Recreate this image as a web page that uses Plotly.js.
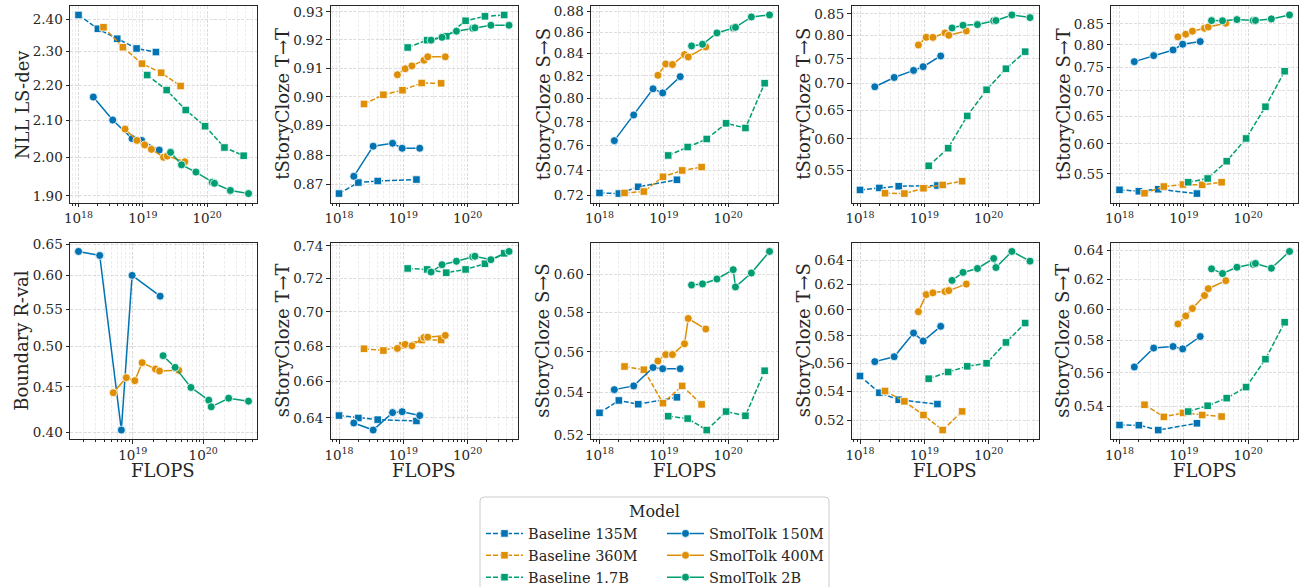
<!DOCTYPE html>
<html><head><meta charset="utf-8">
<script src="https://cdn.plot.ly/plotly-3.0.1.min.js"></script>
<style>body{margin:0;padding:0;background:#fff}#chart{width:1302px;height:587px}</style>
</head><body><div id="chart"></div>
<script>
// ---- FLOPS (x) per model ----
const xBaseline135M = [1.0e18, 2.0e18, 4.0e18, 8.0e18, 1.6e19];
const xBaseline360M = [2.45e18, 4.9e18, 9.7e18, 1.93e19, 3.87e19];
const xBaseline17B  = [1.17e19, 2.35e19, 4.65e19, 9.3e19, 1.86e20, 3.7e20];
const xSmol150M     = [1.7e18, 3.4e18, 6.8e18, 9.6e18, 1.8e19];
const xSmol400M     = [5.3e18, 8.1e18, 1.07e19, 1.36e19, 2.1e19, 2.4e19, 4.5e19];
const xSmol2B       = [2.7e19, 4.0e19, 6.7e19, 1.2e20, 1.3e20, 2.3e20, 4.4e20];
const xSmol150MBoundary = [1.7e18, 3.4e18, 6.9e18, 9.8e18, 2.45e19];

// ---- NLL LS-dev ----
const nll_b135 = [2.415, 2.371, 2.340, 2.310, 2.299];
const nll_b360 = [2.376, 2.314, 2.264, 2.237, 2.198];
const nll_b17  = [2.230, 2.186, 2.129, 2.084, 2.026, 2.004];
const nll_s150 = [2.166, 2.101, 2.050, 2.045, 2.019];
const nll_s400 = [2.076, 2.045, 2.033, 2.021, 2.000, 2.003, 1.988];
const nll_s2b  = [2.013, 1.980, 1.961, 1.935, 1.932, 1.914, 1.906];
// ---- tStoryCloze T->T ----
const tTT_b135 = [0.8670, 0.8707, 0.8712, null, 0.8717];
const tTT_b360 = [0.8975, 0.9007, 0.9023, 0.9048, 0.9047];
const tTT_b17  = [0.9173, 0.9199, 0.9213, 0.9268, 0.9284, 0.9289];
const tTT_s150 = [0.8728, 0.8830, 0.8840, 0.8823, 0.8823];
const tTT_s400 = [null, 0.9077, 0.9098, 0.9108, 0.9128, 0.9140, 0.9140];
const tTT_s2b  = [0.9199, 0.9209, 0.9231, 0.9241, 0.9243, 0.9252, 0.9252];
// ---- tStoryCloze S->S ----
const tSS_b135 = [0.7218, 0.7213, 0.7266, null, 0.7322];
const tSS_b360 = [0.7218, 0.7229, 0.7346, 0.7397, 0.7424];
const tSS_b17  = [0.7519, 0.7588, 0.7655, 0.7787, 0.7747, 0.8135];
const tSS_s150 = [0.7641, 0.7858, 0.8085, 0.8049, 0.8193];
const tSS_s400 = [null, 0.8205, 0.8307, 0.8302, 0.8392, 0.8371, 0.8463];
const tSS_s2b  = [0.8472, 0.8487, 0.8593, 0.8640, 0.8645, 0.8744, 0.8763];
// ---- tStoryCloze T->S ----
const tTS_b135 = [0.5206, 0.5235, 0.5260, null, 0.5270];
const tTS_b360 = [0.5158, 0.5153, 0.5230, 0.5279, 0.5334];
const tTS_b17  = [0.5567, 0.5848, 0.6398, 0.6881, 0.7297, 0.7652];
const tTS_s150 = [0.6939, 0.7121, 0.7263, 0.7338, 0.7561];
const tTS_s400 = [null, 0.7796, 0.7965, 0.7963, 0.8062, 0.8010, 0.8107];
const tTS_s2b  = [0.8175, 0.8236, 0.8252, 0.8340, 0.8346, 0.8477, 0.8414];
// ---- tStoryCloze S->T ----
const tST_b135 = [0.5250, 0.5229, 0.5260, null, 0.5194];
const tST_b360 = [0.5199, 0.5301, 0.5332, 0.5327, 0.5368];
const tST_b17  = [0.5368, 0.5426, 0.5706, 0.6095, 0.6683, 0.7409];
const tST_s150 = [0.7618, 0.7752, 0.7881, 0.8013, 0.8075];
const tST_s400 = [null, 0.8185, 0.8249, 0.8322, 0.8393, 0.8425, 0.8515];
const tST_s2b  = [0.8582, 0.8578, 0.8607, 0.8582, 0.8585, 0.8624, 0.8724];
// ---- Boundary R-val ----
const bnd_s150 = [0.6383, 0.6317, 0.4025, 0.6000, 0.5687];
const bnd_s400 = [0.4432, 0.4608, 0.4572, 0.4790, 0.4712, 0.4688, 0.4696];
const bnd_s2b  = [0.4877, 0.4732, 0.4493, 0.4348, 0.4274, 0.4370, 0.4337];
// ---- sStoryCloze T->T ----
const sTT_b135 = [0.6413, 0.6400, 0.6391, null, 0.6384];
const sTT_b360 = [0.6785, 0.6775, 0.6805, 0.6835, 0.6835];
const sTT_b17  = [0.7261, 0.7255, 0.7235, 0.7255, 0.7290, 0.7354];
const sTT_s150 = [0.6373, 0.6335, 0.6429, 0.6434, 0.6413];
const sTT_s400 = [null, 0.6787, 0.6810, 0.6802, 0.6850, 0.6852, 0.6862];
const sTT_s2b  = [0.7239, 0.7284, 0.7305, 0.7333, 0.7336, 0.7315, 0.7366];
// ---- sStoryCloze S->S ----
const sSS_b135 = [0.5303, 0.5362, 0.5344, null, 0.5377];
const sSS_b360 = [0.5527, 0.5511, 0.5349, 0.5432, 0.5343];
const sSS_b17  = [0.5287, 0.5276, 0.5222, 0.5309, 0.5289, 0.5506];
const sSS_s150 = [0.5414, 0.5432, 0.5522, 0.5516, 0.5516];
const sSS_s400 = [null, 0.5554, 0.5586, 0.5586, 0.5640, 0.5769, 0.5715];
const sSS_s2b  = [0.5944, 0.5950, 0.5976, 0.6026, 0.5934, 0.6008, 0.6125];
// ---- sStoryCloze T->S ----
const sTS_b135 = [0.5506, 0.5388, 0.5339, null, 0.5309];
const sTS_b360 = [0.5400, 0.5328, 0.5234, 0.5133, 0.5259];
const sTS_b17  = [0.5487, 0.5535, 0.5576, 0.5598, 0.5752, 0.5898];
const sTS_s150 = [0.5610, 0.5646, 0.5822, 0.5762, 0.5873];
const sTS_s400 = [null, 0.5986, 0.6120, 0.6134, 0.6145, 0.6152, 0.6204];
const sTS_s2b  = [0.6234, 0.6299, 0.6331, 0.6414, 0.6339, 0.6473, 0.6392];
// ---- sStoryCloze S->T ----
const sST_b135 = [0.5291, 0.5290, 0.5262, null, 0.5301];
const sST_b360 = [0.5409, 0.5338, 0.5361, 0.5349, 0.5340];
const sST_b17  = [0.5369, 0.5403, 0.5448, 0.5514, 0.5684, 0.5917];
const sST_s150 = [0.5636, 0.5753, 0.5763, 0.5748, 0.5826];
const sST_s400 = [null, 0.5906, 0.5958, 0.6006, 0.6092, 0.6137, 0.6191];
const sST_s2b  = [0.6271, 0.6239, 0.6282, 0.6302, 0.6308, 0.6275, 0.6391];

// ---- tick values ----
const ticksNll = [1.90, 2.00, 2.10, 2.20, 2.30, 2.40];
const ticksTTT = [0.87, 0.88, 0.89, 0.90, 0.91, 0.92, 0.93];
const ticksTSS = [0.72, 0.74, 0.76, 0.78, 0.80, 0.82, 0.84, 0.86, 0.88];
const ticksTTS = [0.55, 0.60, 0.65, 0.70, 0.75, 0.80, 0.85];
const ticksTST = [0.55, 0.60, 0.65, 0.70, 0.75, 0.80, 0.85];
const ticksBnd = [0.40, 0.45, 0.50, 0.55, 0.60, 0.65];
const ticksSTT = [0.64, 0.66, 0.68, 0.70, 0.72, 0.74];
const ticksSSS = [0.52, 0.54, 0.56, 0.58, 0.60];
const ticksSTS = [0.52, 0.54, 0.56, 0.58, 0.60, 0.62, 0.64];
const ticksSST = [0.54, 0.56, 0.58, 0.60, 0.62, 0.64];
const xTickVals = [1e18, 1e19, 1e20];
const xTickText = ['10<sup>18</sup>', '10<sup>19</sup>', '10<sup>20</sup>'];

const BLUE = '#0173b2', ORANGE = '#de8f05', GREEN = '#029e73';
const FONT = 'DejaVu Serif, serif';

const series = [
  {name: 'Baseline 135M', color: BLUE,   base: true,  x: xBaseline135M},
  {name: 'Baseline 360M', color: ORANGE, base: true,  x: xBaseline360M},
  {name: 'Baseline 1.7B', color: GREEN,  base: true,  x: xBaseline17B},
  {name: 'SmolTolk 150M', color: BLUE,   base: false, x: xSmol150M},
  {name: 'SmolTolk 400M', color: ORANGE, base: false, x: xSmol400M},
  {name: 'SmolTolk 2B',   color: GREEN,  base: false, x: xSmol2B}
];

const panels = [
  {title: 'NLL LS-dev',       ticks: ticksNll, ys: [nll_b135, nll_b360, nll_b17, nll_s150, nll_s400, nll_s2b]},
  {title: 'tStoryCloze T→T',  ticks: ticksTTT, ys: [tTT_b135, tTT_b360, tTT_b17, tTT_s150, tTT_s400, tTT_s2b]},
  {title: 'tStoryCloze S→S',  ticks: ticksTSS, ys: [tSS_b135, tSS_b360, tSS_b17, tSS_s150, tSS_s400, tSS_s2b]},
  {title: 'tStoryCloze T→S',  ticks: ticksTTS, ys: [tTS_b135, tTS_b360, tTS_b17, tTS_s150, tTS_s400, tTS_s2b]},
  {title: 'tStoryCloze S→T',  ticks: ticksTST, ys: [tST_b135, tST_b360, tST_b17, tST_s150, tST_s400, tST_s2b]},
  {title: 'Boundary R-val',   ticks: ticksBnd, ys: [null, null, null, bnd_s150, bnd_s400, bnd_s2b], xOverride: {3: xSmol150MBoundary}},
  {title: 'sStoryCloze T→T',  ticks: ticksSTT, ys: [sTT_b135, sTT_b360, sTT_b17, sTT_s150, sTT_s400, sTT_s2b]},
  {title: 'sStoryCloze S→S',  ticks: ticksSSS, ys: [sSS_b135, sSS_b360, sSS_b17, sSS_s150, sSS_s400, sSS_s2b]},
  {title: 'sStoryCloze T→S',  ticks: ticksSTS, ys: [sTS_b135, sTS_b360, sTS_b17, sTS_s150, sTS_s400, sTS_s2b]},
  {title: 'sStoryCloze S→T',  ticks: ticksSST, ys: [sST_b135, sST_b360, sST_b17, sST_s150, sST_s400, sST_s2b]}
];

const FW = 1302, FH = 587;
const colLeft = [70, 330.5, 591, 851.5, 1111];
const rowTop = [6, 242.5];
const PW = 187, PH = 196.5;

function padLog(vals) {
  const l = vals.map(v => Math.log10(v));
  const lo = Math.min(...l), hi = Math.max(...l);
  const p = (hi - lo) * 0.05;
  return [lo - p, hi + p];
}

const legendFont = {family: FONT, size: 14.5, color: '#262626'};
const titleFont = {family: FONT, size: 18, color: '#262626'};
const traces = [];
const layout = {
  width: FW, height: FH,
  margin: {l: 0, r: 0, t: 0, b: 0, autoexpand: false},
  paper_bgcolor: '#fff', plot_bgcolor: '#fff',
  font: {family: FONT, color: '#262626'},
  showlegend: true,
  legend: {x: 481 / FW, y: 1 - 517.5 / FH, xanchor: 'left', yanchor: 'top',
           bgcolor: 'rgba(0,0,0,0)', borderwidth: 0, tracegroupgap: 0, itemwidth: 37, font: legendFont},
  legend2: {x: 662 / FW, y: 1 - 517.5 / FH, xanchor: 'left', yanchor: 'top',
           bgcolor: 'rgba(0,0,0,0)', borderwidth: 0, tracegroupgap: 0, itemwidth: 37, font: legendFont},
  annotations: [{text: 'Model', xref: 'paper', yref: 'paper', x: 655 / FW, y: 1 - 511 / FH,
                 xanchor: 'center', yanchor: 'middle', showarrow: false,
                 font: {family: FONT, size: 16, color: '#262626'}}],
  shapes: []
};

// legend frame (rounded rect)
(function () {
  const x0 = 480 / FW, x1 = 829 / FW, y0 = 1 - 497 / FH, y1 = 1 - 600 / FH;
  const rx = 4 / FW, ry = 4 / FH;
  const path = `M ${x0 + rx},${y0} L ${x1 - rx},${y0} Q ${x1},${y0} ${x1},${y0 - ry} L ${x1},${y1} L ${x0},${y1} L ${x0},${y0 - ry} Q ${x0},${y0} ${x0 + rx},${y0} Z`;
  layout.shapes.push({type: 'path', xref: 'paper', yref: 'paper', path: path,
                      line: {color: '#cccccc', width: 1}, fillcolor: 'rgba(255,255,255,0.8)', layer: 'below'});
})();

const shown = {};
panels.forEach((p, i) => {
  const k = i + 1;
  const row = i < 5 ? 0 : 1, col = i % 5;
  const xs = 'x' + (k === 1 ? '' : k), ysn = 'y' + (k === 1 ? '' : k);
  const allX = [], allY = [];
  p.ys.forEach((yarr, si) => {
    if (!yarr) return;
    const s = series[si];
    const xarr = (p.xOverride && p.xOverride[si]) ? p.xOverride[si] : s.x;
    yarr.forEach((v, j) => { if (v != null) { allX.push(xarr[j]); allY.push(v); } });
    traces.push({
      type: 'scatter', mode: 'lines+markers', x: xarr, y: yarr, xaxis: xs, yaxis: ysn,
      name: s.name, connectgaps: true,
      legend: s.base ? 'legend' : 'legend2',
      showlegend: !shown[s.name],
      line: {color: s.color, width: 1.5, dash: s.base ? '5px,2px' : 'solid'},
      marker: {color: s.color, size: s.base ? 7.5 : 8, symbol: s.base ? 'square' : 'circle',
               line: {color: '#ffffff', width: 0.8}},
      hoverinfo: 'skip'
    });
    shown[s.name] = true;
  });
  const xr = padLog(allX), yr = padLog(allY);
  const axCommon = {
    showline: true, linecolor: '#262626', linewidth: 1, mirror: true,
    ticks: 'outside', ticklen: 3.5, tickwidth: 1, tickcolor: '#262626',
    showgrid: true, gridcolor: '#d4d4d4', gridwidth: 0.8, griddash: '3px,1.5px',
    zeroline: false, tickfont: {family: FONT, size: 13.5, color: '#262626'},
    automargin: false
  };
  const xDom = [colLeft[col] / FW, (colLeft[col] + PW) / FW];
  const yDom = [1 - (rowTop[row] + PH) / FH, 1 - rowTop[row] / FH];
  layout['xaxis' + (k === 1 ? '' : k)] = Object.assign({}, axCommon, {
    type: 'log', range: xr, anchor: ysn, domain: xDom,
    tickvals: xTickVals, ticktext: xTickText,
    minor: {dtick: 'D1', ticks: 'outside', ticklen: 2, tickcolor: '#262626', showgrid: true,
            gridcolor: '#e3e3e3', gridwidth: 0.6, griddash: '3px,1.5px'}
  });
  layout['yaxis' + (k === 1 ? '' : k)] = Object.assign({}, axCommon, {
    type: 'log', range: yr, anchor: xs, domain: yDom,
    tickvals: p.ticks, ticktext: p.ticks.map(v => v.toFixed(2))
  });
  // y-axis title
  layout.annotations.push({text: p.title, xref: 'paper', yref: 'paper',
    x: (colLeft[col] - 48) / FW, y: (yDom[0] + yDom[1]) / 2, textangle: -90,
    xanchor: 'center', yanchor: 'middle', showarrow: false, font: titleFont});
  // x-axis title (bottom row)
  if (row === 1) {
    layout.annotations.push({text: 'FLOPS', xref: 'paper', yref: 'paper',
      x: (xDom[0] + xDom[1]) / 2, y: 1 - 470 / FH,
      xanchor: 'center', yanchor: 'middle', showarrow: false, font: titleFont});
  }
});

Plotly.newPlot('chart', traces, layout, {staticPlot: true, displayModeBar: false});
</script>
</body></html>
